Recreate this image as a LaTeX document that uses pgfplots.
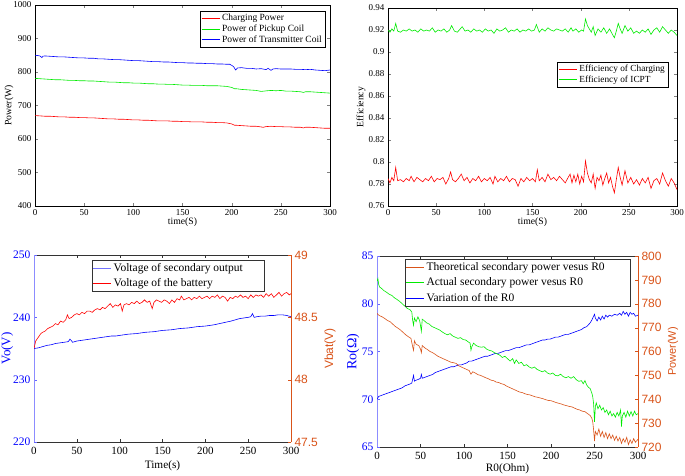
\documentclass[border=0pt]{standalone}
\usepackage{fontspec}
\setmainfont{Liberation Serif}
\newfontfamily\arialf{Liberation Sans}
\usepackage{pgfplots}
\pgfplotsset{compat=1.18}
\definecolor{mred}{RGB}{255,0,0}
\definecolor{mgreen}{RGB}{0,235,0}
\definecolor{mblue}{RGB}{0,0,255}
\definecolor{morange}{RGB}{217,83,25}
\pgfplotsset{
  every axis/.append style={
    scale only axis, anchor=north west,
    /pgf/number format/assume math mode=true,
    /pgf/number format/1000 sep={},
    scaled ticks=false, tick align=inside, major tick length=3pt,
    xmin=0, xmax=300, xtick={0,50,...,300},
    legend cell align=left,
    legend image code/.code={\draw[#1] (0pt,0pt) -- (18pt,0pt);},
  },
}
\begin{document}
\begin{tikzpicture}
\path[use as bounding box] (0pt,0pt) rectangle (685pt,-475pt);
% ---------------- Panel 1 ----------------
\begin{axis}[at={(35pt,-5pt)}, width=295pt, height=201pt,
  ymin=400, ymax=1000, ytick={400,500,...,1000},
  tick label style={font=\fontsize{9}{10}\selectfont},
  label style={font=\fontsize{9.7}{11}\selectfont},
  xlabel={time(S)}, ylabel={Power(W)},
  xlabel style={at={(axis description cs:0.5,-0.080)}, anchor=center},
  ylabel style={at={(axis description cs:-0.088,0.5)}, anchor=center},
  legend style={at={(0.983,0.97)}, anchor=north east, draw=black, line width=0.4pt,
    font=\fontsize{9.5}{10}\selectfont, inner sep=1pt, row sep=-1.5pt},
]
\addlegendimage{mred, line width=0.8pt}
\addlegendentry{Charging Power}
\addlegendimage{mgreen, line width=0.8pt}
\addlegendentry{Power of Pickup Coil}
\addlegendimage{mblue, line width=0.8pt}
\addlegendentry{Power of Transmitter Coil}
\addplot[mred, line width=0.6pt, forget plot] coordinates {(0,670) (5,669) (10,668) (15,668) (20,667) (25,666) (30,666) (35,665) (40,665) (45,664) (50,664) (55,663) (60,663) (65,662) (70,661) (75,660) (80,660) (85,659) (90,659) (95,658) (100,657) (105,657) (110,656) (115,656) (120,655) (125,654) (130,654) (135,654) (140,653) (145,653) (150,652) (155,652) (160,651) (165,651) (170,651) (175,650) (180,650) (185,649) (190,649) (195,648) (200,645) (203,641) (205,641) (210,640) (215,639) (220,638) (225,638) (230,636) (232,635) (235,637) (240,638) (245,637) (250,637) (255,636) (260,636) (265,635) (270,635) (273,633) (275,635) (280,635) (285,634) (290,633) (295,632) (300,632)};
\addplot[mgreen, line width=0.6pt, forget plot] coordinates {(0,781) (5,780) (10,779) (15,778) (20,777) (25,777) (30,776) (35,775) (40,775) (45,774) (50,774) (55,773) (60,773) (65,772) (70,771) (75,770) (80,770) (85,769) (90,768) (95,768) (100,767) (105,767) (110,766) (115,765) (120,765) (125,764) (130,764) (135,763) (140,763) (145,762) (150,761) (155,761) (160,760) (165,760) (170,760) (175,759) (180,759) (185,759) (190,758) (195,757) (200,754) (203,750) (205,750) (210,748) (215,747) (220,746) (225,745) (230,742) (233,743) (236,744) (240,745) (245,744) (250,745) (255,743) (260,743) (265,742) (270,741) (273,739) (275,741) (280,741) (285,740) (290,739) (295,738) (300,737)};
\addplot[mblue, line width=0.6pt, forget plot] coordinates {(0,850) (3,849) (5,848) (7,843) (8,847) (10,848) (15,847) (20,846) (25,845) (30,845) (35,844) (40,843) (45,842) (50,842) (55,841) (60,841) (65,839) (70,839) (75,838) (80,837) (85,837) (90,836) (95,835) (100,834) (105,834) (110,833) (115,832) (120,831) (125,831) (130,830) (135,830) (140,829) (145,828) (150,828) (155,827) (160,827) (165,826) (170,826) (175,825) (180,825) (185,824) (190,824) (195,823) (198,823) (200,820) (202,816) (204,806) (206,812) (210,813) (215,811) (220,811) (225,809) (230,810) (235,807) (237,811) (240,805) (242,809) (245,810) (250,809) (255,809) (260,809) (265,808) (270,808) (275,807) (280,808) (285,806) (290,805) (295,804) (300,806)};
\end{axis}
% ---------------- Panel 2 ----------------
\begin{axis}[at={(388pt,-8pt)}, width=289pt, height=198pt,
  ymin=0.76, ymax=0.94, ytick={0.76,0.78,0.8,0.82,0.84,0.86,0.88,0.9,0.92,0.94},
  tick label style={font=\fontsize{9}{10}\selectfont},
  label style={font=\fontsize{9.7}{11}\selectfont},
  xlabel={time(S)}, ylabel={Efficiency},
  xlabel style={at={(axis description cs:0.5,-0.081)}, anchor=center},
  ylabel style={at={(axis description cs:-0.093,0.5)}, anchor=center},
  legend style={at={(0.969,0.727)}, anchor=north east, draw=black, line width=0.4pt,
    font=\fontsize{9.3}{10}\selectfont, inner sep=1pt, row sep=-1.5pt},
]
\addlegendimage{mred, line width=0.8pt}
\addlegendentry{Efficiency of Charging}
\addlegendimage{mgreen, line width=0.8pt}
\addlegendentry{Efficiency of ICPT}
\addplot[mred, line width=0.6pt, forget plot] coordinates {(0,0.785) (2,0.781) (4,0.786) (6,0.783) (8,0.795) (10,0.783) (13,0.784) (16,0.782) (19,0.785) (22,0.783) (24,0.787) (27,0.782) (30,0.786) (33,0.784) (36,0.782) (39,0.785) (42,0.783) (45,0.787) (48,0.782) (51,0.785) (54,0.784) (57,0.786) (60,0.780) (63,0.785) (65,0.791) (67,0.784) (70,0.782) (73,0.785) (76,0.789) (79,0.783) (82,0.786) (85,0.781) (88,0.785) (91,0.783) (94,0.787) (97,0.782) (100,0.785) (103,0.783) (106,0.786) (109,0.780) (111,0.787) (114,0.782) (117,0.785) (120,0.783) (123,0.787) (126,0.782) (129,0.785) (132,0.784) (135,0.778) (138,0.785) (141,0.782) (144,0.786) (147,0.783) (150,0.785) (153,0.782) (155,0.793) (157,0.783) (160,0.786) (163,0.782) (166,0.789) (169,0.784) (172,0.786) (175,0.783) (178,0.787) (181,0.784) (184,0.781) (187,0.786) (189,0.789) (191,0.781) (193,0.788) (195,0.782) (197,0.789) (199,0.780) (201,0.787) (203,0.782) (205,0.801) (207,0.790) (209,0.784) (211,0.781) (213,0.789) (215,0.776) (217,0.786) (219,0.783) (221,0.788) (223,0.779) (225,0.785) (227,0.790) (229,0.781) (231,0.786) (233,0.778) (235,0.772) (237,0.784) (239,0.795) (241,0.786) (243,0.779) (246,0.792) (249,0.781) (252,0.786) (255,0.780) (258,0.784) (261,0.779) (264,0.785) (267,0.781) (270,0.786) (273,0.776) (276,0.783) (279,0.785) (282,0.780) (285,0.790) (288,0.783) (291,0.778) (294,0.785) (297,0.781) (300,0.775)};
\addplot[mgreen, line width=0.6pt, forget plot] coordinates {(0,0.920) (2,0.918) (4,0.921) (6,0.919) (8,0.926) (10,0.919) (13,0.918) (16,0.920) (19,0.919) (22,0.921) (25,0.919) (28,0.920) (31,0.918) (34,0.921) (37,0.919) (40,0.920) (43,0.919) (46,0.922) (49,0.918) (52,0.920) (55,0.919) (58,0.921) (61,0.918) (64,0.920) (66,0.924) (69,0.919) (72,0.918) (75,0.921) (77,0.923) (80,0.919) (83,0.920) (86,0.918) (89,0.921) (92,0.919) (95,0.920) (98,0.918) (101,0.921) (104,0.919) (107,0.920) (110,0.917) (113,0.921) (116,0.919) (119,0.920) (122,0.922) (125,0.918) (128,0.920) (131,0.919) (134,0.921) (137,0.918) (140,0.920) (143,0.919) (146,0.921) (149,0.919) (152,0.920) (154,0.925) (157,0.918) (160,0.921) (163,0.919) (166,0.922) (169,0.920) (172,0.919) (175,0.921) (178,0.920) (181,0.919) (184,0.921) (187,0.918) (190,0.922) (192,0.919) (195,0.921) (198,0.918) (201,0.920) (203,0.919) (205,0.930) (207,0.924) (209,0.921) (211,0.918) (213,0.923) (215,0.915) (218,0.921) (221,0.918) (224,0.922) (227,0.917) (230,0.921) (233,0.916) (235,0.913) (237,0.919) (239,0.926) (241,0.921) (243,0.917) (246,0.924) (249,0.919) (252,0.922) (255,0.917) (258,0.919) (261,0.917) (264,0.920) (267,0.918) (270,0.921) (273,0.916) (276,0.920) (279,0.922) (282,0.918) (285,0.923) (288,0.920) (291,0.917) (294,0.920) (297,0.918) (300,0.915)};
\end{axis}
% ---------------- Panel 3 ----------------
\begin{axis}[at={(34pt,-255pt)}, width=257pt, height=187pt,
  ymin=0, ymax=1, axis y line=none, axis x line=box,
  x axis line style={black!80}, tick style={black!80},
  tick label style={font=\fontsize{11}{12}\selectfont},
  xticklabel style={yshift=-2pt},
  xlabel={Time(s)}, xlabel style={font=\fontsize{11.3}{12}\selectfont, at={(axis description cs:0.5,-0.125)}, anchor=center},
]
\end{axis}
\begin{axis}[at={(34pt,-255pt)}, width=257pt, height=187pt,
  axis x line=none, axis y line*=left,
  ymin=220, ymax=250, ytick={220,230,240,250},
  axis line style={blue!45}, tick style={blue!60},
  yticklabel style={font=\fontsize{11.5}{12}\selectfont, text=mblue},
  ylabel={Vo(V)}, ylabel style={font=\fontsize{13}{14}\selectfont, text=mblue, at={(axis description cs:-0.104,0.5)}, anchor=center},
]
\addplot[mblue, line width=0.6pt] coordinates {(0,235.0) (5,235.1) (10,235.3) (15,235.5) (20,235.6) (25,235.8) (30,235.9) (35,236.0) (40,236.1) (42,236.5) (44,236.2) (45,236.0) (50,236.2) (55,236.3) (60,236.4) (65,236.5) (70,236.6) (75,236.7) (80,236.8) (85,236.9) (90,237.0) (95,237.0) (100,237.1) (110,237.3) (120,237.4) (130,237.6) (140,237.7) (150,237.9) (160,238.0) (170,238.2) (180,238.3) (190,238.5) (200,238.6) (210,238.8) (220,239.1) (230,239.4) (240,239.8) (250,240.0) (253,240.1) (255,240.6) (257,240.0) (260,240.1) (265,240.2) (270,240.2) (275,240.3) (280,240.3) (285,240.4) (290,240.4) (295,240.3) (300,240.1)};
\end{axis}
\begin{axis}[at={(34pt,-255pt)}, width=257pt, height=187pt,
  axis x line=none, axis y line*=right,
  ymin=47.5, ymax=49, ytick={47.5,48,48.5,49},
  axis line style={morange}, tick style={morange},
  yticklabel style={font=\arialf\fontsize{12}{13}\selectfont, text=morange},
  ylabel={Vbat(V)}, ylabel style={font=\arialf\fontsize{12}{13}\selectfont, text=morange, at={(axis description cs:1.152,0.5)}, anchor=center},
  legend style={at={(0.895,0.973)}, anchor=north east, draw=black!80, line width=0.4pt,
    font=\fontsize{11.5}{12}\selectfont, inner sep=1pt, row sep=1.5pt},
]
\addlegendimage{blue!55, line width=0.8pt}
\addlegendentry{Voltage of secondary output\kern18pt}
\addlegendimage{mred, line width=0.8pt}
\addlegendentry{Voltage of the battery}
\addplot[mred, line width=0.6pt, forget plot] coordinates {(0,48.25) (1,48.28) (2,48.31) (4,48.33) (6,48.35) (8,48.37) (10,48.38) (13,48.39) (16,48.41) (19,48.42) (22,48.43) (25,48.45) (28,48.44) (31,48.47) (34,48.46) (37,48.48) (39,48.52) (41,48.49) (44,48.50) (47,48.52) (50,48.53) (53,48.52) (56,48.54) (59,48.53) (62,48.55) (65,48.55) (68,48.54) (71,48.56) (74,48.57) (77,48.56) (80,48.58) (83,48.57) (86,48.59) (89,48.61) (92,48.58) (95,48.60) (98,48.59) (101,48.61) (103,48.55) (105,48.60) (108,48.61) (111,48.60) (114,48.62) (117,48.61) (120,48.63) (123,48.61) (126,48.62) (129,48.64) (132,48.62) (135,48.63) (138,48.57) (140,48.62) (143,48.64) (146,48.63) (149,48.62) (152,48.64) (155,48.63) (158,48.61) (161,48.64) (164,48.62) (167,48.65) (170,48.64) (172,48.67) (175,48.64) (178,48.65) (181,48.66) (184,48.64) (187,48.66) (190,48.65) (193,48.67) (196,48.65) (199,48.66) (202,48.67) (205,48.65) (208,48.67) (211,48.66) (214,48.68) (217,48.65) (220,48.67) (223,48.66) (226,48.63) (229,48.66) (232,48.65) (235,48.67) (238,48.66) (241,48.68) (244,48.66) (247,48.67) (250,48.65) (253,48.68) (256,48.66) (259,48.68) (262,48.67) (265,48.68) (268,48.66) (271,48.69) (274,48.67) (277,48.69) (280,48.66) (283,48.68) (286,48.70) (289,48.67) (292,48.69) (295,48.70) (298,48.68) (300,48.69)};
\end{axis}
% ---------------- Panel 4 ----------------
\begin{axis}[at={(377pt,-256pt)}, width=261pt, height=191pt,
  ymin=0, ymax=1, axis y line=none, axis x line=box,
  x axis line style={black!80}, tick style={black!80},
  tick label style={font=\fontsize{11}{12}\selectfont},
  xticklabel style={yshift=-2pt},
  xlabel={R0(Ohm)}, xlabel style={font=\fontsize{11.3}{12}\selectfont, at={(axis description cs:0.5,-0.112)}, anchor=center},
]
\end{axis}
\begin{axis}[at={(377pt,-256pt)}, width=261pt, height=191pt,
  axis x line=none, axis y line*=left,
  ymin=65, ymax=85, ytick={65,70,75,80,85},
  axis line style={blue!45}, tick style={blue!60},
  yticklabel style={font=\fontsize{11.5}{12}\selectfont, text=mblue},
  ylabel={Ro(Ω)}, ylabel style={font=\fontsize{14}{15}\selectfont, text=mblue, at={(axis description cs:-0.092,0.5)}, anchor=center},
]
\addplot[mblue, line width=0.6pt] coordinates {(0,70.0) (2,70.3) (5,70.4) (8,70.5) (11,70.6) (14,70.7) (17,70.8) (20,70.9) (23,71.0) (26,71.1) (29,71.2) (32,71.4) (35,71.5) (38,71.6) (40,71.7) (41,72.1) (42,72.5) (43,71.9) (45,72.0) (48,72.1) (50,72.2) (51,72.6) (52,72.2) (55,72.3) (58,72.4) (61,72.5) (64,72.6) (67,72.8) (70,72.9) (73,73.0) (76,73.1) (79,73.2) (82,73.3) (85,73.4) (88,73.4) (91,73.5) (94,73.6) (97,73.6) (100,73.7) (103,73.8) (106,74.0) (109,74.0) (112,74.1) (115,74.2) (118,74.3) (121,74.4) (124,74.5) (127,74.5) (130,74.6) (133,74.7) (136,74.8) (139,74.8) (142,74.9) (145,75.0) (148,75.1) (151,75.1) (154,75.2) (157,75.3) (160,75.4) (163,75.4) (166,75.5) (169,75.6) (172,75.7) (175,75.7) (178,75.8) (181,75.9) (184,76.0) (187,76.1) (190,76.2) (193,76.2) (196,76.3) (199,76.3) (202,76.4) (205,76.5) (208,76.5) (211,76.6) (214,76.7) (217,76.8) (220,76.8) (223,76.9) (226,77.0) (229,77.1) (232,77.2) (235,77.3) (238,77.5) (241,77.6) (243,77.8) (245,78.0) (247,78.3) (249,78.7) (250,78.9) (251,78.5) (253,78.2) (255,78.6) (257,78.3) (259,78.7) (261,78.4) (263,78.8) (265,78.6) (267,78.8) (270,78.7) (273,78.9) (276,78.8) (279,79.0) (281,78.8) (283,79.2) (285,78.9) (287,79.1) (289,78.7) (291,79.1) (293,78.9) (295,79.0) (297,78.7) (300,78.8)};
\end{axis}
\begin{axis}[at={(377pt,-256pt)}, width=261pt, height=191pt,
  axis x line=none, axis y line*=right,
  ymin=720, ymax=800, ytick={720,730,...,800},
  axis line style={morange}, tick style={morange},
  yticklabel style={font=\arialf\fontsize{12}{13}\selectfont, text=morange},
  ylabel={Power(W)}, ylabel style={font=\arialf\fontsize{11}{12}\selectfont, text=morange, at={(axis description cs:1.134,0.5)}, anchor=center},
  legend style={at={(0.969,0.984)}, anchor=north east, draw=black!80, line width=0.4pt,
    font=\fontsize{11.5}{12}\selectfont, inner sep=1pt, row sep=2pt},
]
\addlegendimage{morange, line width=0.8pt}
\addlegendentry{Theoretical secondary power vesus R0\kern22pt}
\addlegendimage{mgreen, line width=0.8pt}
\addlegendentry{Actual secondary power vesus R0}
\addlegendimage{mblue, line width=0.8pt}
\addlegendentry{Variation of the R0}
\addplot[morange, line width=0.6pt, forget plot] coordinates {(0,776.0) (1,775.5) (3,775.0) (6,774.5) (9,773.8) (12,773.0) (15,772.5) (18,771.5) (21,770.5) (24,769.8) (27,769.0) (30,768.0) (33,767.0) (36,766.2) (39,765.5) (41,762.0) (42,760.5) (43,764.5) (45,763.0) (48,762.5) (50,761.0) (51,759.5) (52,762.5) (55,761.5) (58,760.8) (61,760.0) (64,759.5) (67,758.8) (70,758.0) (73,757.5) (76,757.0) (79,756.5) (82,756.0) (85,755.5) (88,755.3) (91,755.0) (94,754.0) (97,753.5) (100,753.0) (103,752.5) (106,752.0) (108,750.5) (110,751.5) (113,751.0) (116,750.3) (119,750.0) (122,749.5) (125,749.0) (128,748.6) (131,748.0) (134,747.8) (137,747.2) (140,747.0) (143,746.5) (146,746.2) (149,745.5) (152,745.0) (155,744.5) (158,744.0) (161,743.5) (164,743.0) (167,742.8) (170,742.3) (173,742.0) (176,741.8) (179,741.4) (182,741.0) (185,740.8) (188,740.5) (191,740.2) (194,739.8) (197,739.5) (200,739.4) (203,739.0) (206,738.6) (209,738.3) (212,738.0) (215,737.6) (218,737.3) (221,737.0) (224,736.8) (227,736.3) (230,735.8) (233,735.5) (236,735.0) (239,734.8) (242,734.0) (245,733.2) (247,732.0) (248,730.5) (249,727.0) (250,722.5) (251,726.5) (253,725.0) (255,727.5) (257,724.5) (259,726.5) (261,724.0) (263,726.0) (265,723.5) (267,725.5) (269,723.5) (271,725.0) (273,722.8) (275,724.5) (277,722.5) (279,724.0) (281,721.5) (283,723.5) (285,722.0) (287,724.0) (289,721.0) (291,723.0) (293,721.5) (295,723.5) (297,722.0) (300,723.2)};
\addplot[mgreen, line width=0.6pt, forget plot] coordinates {(0,789.5) (1,790.5) (2,788.0) (3,787.0) (5,786.5) (8,785.5) (11,784.8) (14,784.0) (17,783.5) (20,782.5) (23,781.8) (26,781.0) (29,780.0) (32,779.0) (35,778.0) (38,777.5) (40,776.5) (41,773.0) (42,771.0) (43,774.0) (45,772.5) (47,774.5) (49,773.0) (51,768.5) (52,773.5) (54,773.0) (57,772.0) (60,771.5) (63,770.5) (66,770.0) (69,769.5) (72,769.0) (75,768.2) (78,767.5) (81,767.0) (84,767.5) (87,766.5) (90,766.0) (93,765.5) (96,765.8) (99,765.0) (102,764.8) (105,764.0) (107,763.5) (108,760.5) (109,762.0) (111,763.5) (114,762.5) (117,762.0) (120,761.8) (123,762.0) (126,761.0) (129,760.5) (132,760.2) (135,759.5) (138,759.0) (141,758.5) (144,757.5) (147,758.0) (150,757.0) (153,756.0) (156,757.0) (158,755.0) (160,756.5) (163,755.0) (166,755.5) (169,754.0) (172,754.5) (175,753.5) (178,753.0) (181,753.5) (184,752.5) (187,752.0) (190,751.5) (193,752.0) (196,751.0) (199,750.5) (202,751.0) (205,750.0) (208,749.8) (211,750.5) (214,749.5) (217,749.0) (220,749.5) (223,748.8) (226,749.5) (229,748.2) (232,747.5) (235,747.8) (237,746.5) (239,747.8) (241,746.0) (243,745.0) (245,744.5) (247,742.5) (248,741.0) (249,738.0) (250,730.5) (251,737.0) (252,738.5) (254,736.0) (256,737.5) (258,735.5) (260,736.5) (262,734.5) (264,735.5) (266,733.5) (268,735.0) (270,733.0) (272,734.0) (274,732.5) (276,734.5) (278,733.0) (280,735.5) (281,728.5) (282,733.0) (284,734.5) (286,732.5) (288,735.0) (290,733.0) (292,734.8) (294,733.0) (296,735.0) (298,733.5) (300,734.0)};
\end{axis}
\end{tikzpicture}
\end{document}
